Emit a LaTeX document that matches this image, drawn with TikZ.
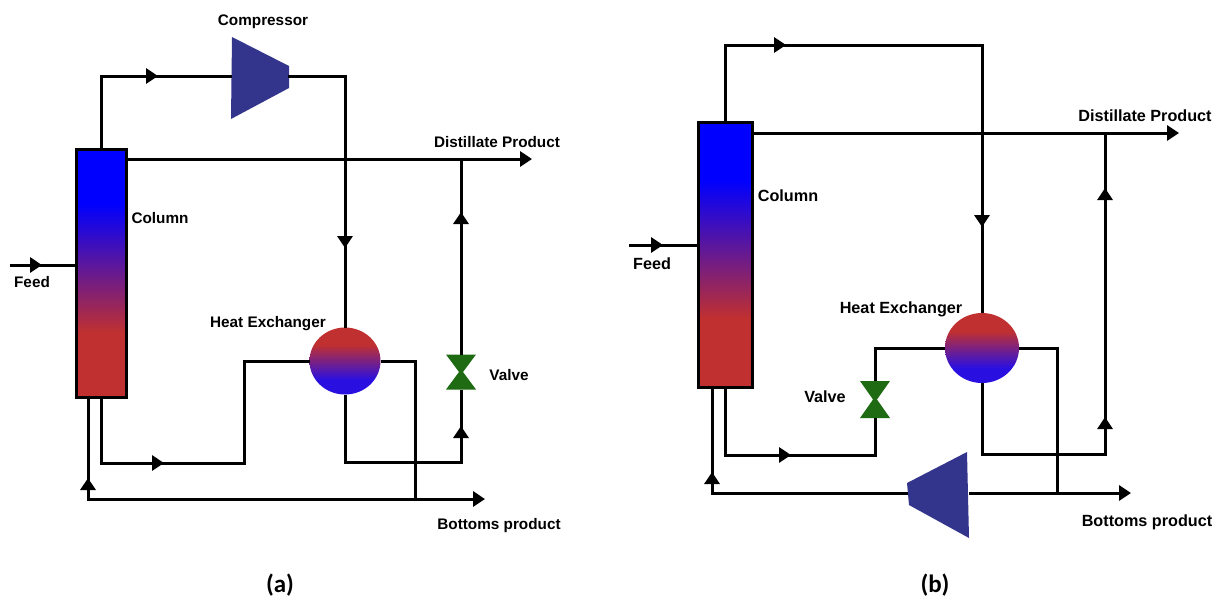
\documentclass[tikz,border=0pt]{standalone}
\usepackage{fontspec}
\setmainfont{Liberation Sans}
\newfontfamily\capfont{Carlito}
\usetikzlibrary{arrows.meta,shapes.geometric}
\definecolor{hotred}{HTML}{C03030}
\definecolor{coldblue}{HTML}{0000FF}
\definecolor{lowblue}{HTML}{2A10E0}
\definecolor{compblue}{HTML}{33348C}
\definecolor{valvegreen}{HTML}{1E6B14}
\pgfdeclareverticalshading{columnfade}{100bp}{color(0bp)=(hotred); color(38bp)=(hotred); color(64bp)=(coldblue); color(100bp)=(coldblue)}
\pgfdeclareverticalshading{exchfade}{100bp}{color(0bp)=(lowblue); color(36bp)=(lowblue); color(62bp)=(hotred); color(100bp)=(hotred)}
\tikzset{
  pipe/.style={line width=3pt},
  flow/.style={pipe, -{Triangle[length=12pt,width=15pt]}},
  aftertip/.style={pipe, shorten <=-6pt},
  columnbox/.style={draw, line width=3pt, shading=columnfade, minimum width=50pt, inner sep=0pt, outer sep=0pt},
  exchbox/.style={ellipse, shading=exchfade, inner sep=0pt, outer sep=0pt},
  valvebox/.style={minimum width=30pt, minimum height=35pt, inner sep=0pt, outer sep=0pt},
  compbox/.style={fill=compblue},
  lab/.style={font=\bfseries\fontsize{15.3}{17}\selectfont, inner sep=0pt},
  labb/.style={font=\bfseries\fontsize{16.2}{18}\selectfont, inner sep=0pt},
  panel/.style={font=\capfont\bfseries\fontsize{25}{28}\selectfont, inner sep=0pt}
}
\begin{document}
\begin{tikzpicture}[x=1pt,y=-1pt]
  \useasboundingbox (0,0) rectangle (1214,598);
  % left process
  \node[columnbox, minimum height=248pt] (cola) at (101,273) {};
  \node[exchbox, minimum width=71pt, minimum height=67pt] (exa) at (345,361) {};
  \node[valvebox] (vala) at (461,372) {};
  \fill[valvegreen, shift={(vala.center)}] (-15,-17.5) -- (15,-17.5) -- (2,0) -- (15,17.5) -- (-15,17.5) -- (-2,0) -- cycle;
  \fill[compbox] (232,37) -- (289,66) -- (289,88) -- (231,119) -- cycle;
  \coordinate (compina) at (232,76);
  \coordinate (compouta) at (288,76);
  \coordinate (tipa1) at (158,76);
  \coordinate (tipa2) at (345,248);
  \coordinate (dista) at (461,159);
  \coordinate (distenda) at (532,159);
  \coordinate (tipa3) at (461,212);
  \coordinate (tipa4) at (461,426);
  \coordinate (feeda) at (10,265);
  \coordinate (tipa5) at (42,265);
  \coordinate (tipa6) at (164,463);
  \coordinate (stepa) at (244,463);
  \coordinate (hota) at (415,361);
  \coordinate (bota) at (415,499);
  \coordinate (botenda) at (485,499);
  \coordinate (tipa7) at (88,478);
  \coordinate (loopa) at (461,462);
  \draw[flow] (cola.north) |- (tipa1);
  \draw[aftertip] (tipa1) -- (compina);
  \draw[flow] (compouta) -| (tipa2);
  \draw[aftertip] (tipa2) -- (exa.north);
  \draw[flow] (cola.east |- dista) -- (distenda);
  \draw[flow] (feeda) -- (tipa5);
  \draw[aftertip] (tipa5) -- (feeda -| cola.west);
  \draw[flow] (vala.north) -- (tipa3);
  \draw[aftertip] (tipa3) -- (dista);
  \draw[flow] (exa.south) |- (loopa) -- (tipa4);
  \draw[aftertip] (tipa4) -- (vala.south);
  \draw[flow] (cola.south) |- (tipa6);
  \draw[aftertip] (tipa6) -- (stepa) |- (exa.west);
  \draw[pipe] (exa.east) -- (hota) -- (bota);
  \draw[flow] (bota) -- (botenda);
  \draw[flow] (bota) -| (tipa7);
  \draw[aftertip] (tipa7) -- (cola.south -| tipa7);
  \node[lab] (compnamea) at (263,22) {Compressor};
  \node[lab] (distnamea) at (497,142) {Distillate Product};
  \node[lab] (colnamea) at (160,218) {Column};
  \node[lab] (feednamea) at (32,282) {Feed};
  \node[lab] (exnamea) at (268,324) {Heat Exchanger};
  \node[lab] (valnamea) at (509,375) {Valve};
  \node[lab] (botnamea) at (499,526) {Bottoms product};
  \node[panel] (capa) at (280,585) {(a)};
  % right process
  \node[columnbox, minimum width=54pt, minimum height=265pt] (colb) at (725,254.500) {};
  \node[exchbox, minimum width=74pt, minimum height=70pt] (exb) at (982,348) {};
  \node[valvebox, minimum height=37pt] (valb) at (875,399.500) {};
  \fill[valvegreen, shift={(valb.center)}] (-15,-18.500) -- (15,-18.500) -- (2,0) -- (15,18.500) -- (-15,18.500) -- (-2,0) -- cycle;
  \fill[compbox] (907,483) -- (967,452) -- (969,538) -- (909,505) -- cycle;
  \coordinate (compinb) at (969,493);
  \coordinate (compoutb) at (908,493);
  \coordinate (tipb1) at (786,45);
  \coordinate (tipb2) at (982,227);
  \coordinate (distb) at (1105,133);
  \coordinate (distendb) at (1179,133);
  \coordinate (tipb3) at (1105,188);
  \coordinate (tipb4) at (1105,417);
  \coordinate (feedb) at (629,245);
  \coordinate (tipb5) at (663,245);
  \coordinate (tipb6) at (791,455);
  \coordinate (hotb) at (1057,348);
  \coordinate (botb) at (1057,493);
  \coordinate (botendb) at (1131,493);
  \coordinate (tipb7) at (712,472);
  \coordinate (loopb) at (1105,454);
  \draw[flow] (colb.north) |- (tipb1);
  \draw[flow, shorten <=-6pt] (tipb1) -| (tipb2);
  \draw[aftertip] (tipb2) -- (exb.north);
  \draw[flow] (colb.east |- distb) -- (distendb);
  \draw[flow] (feedb) -- (tipb5);
  \draw[aftertip] (tipb5) -- (feedb -| colb.west);
  \draw[flow, shorten <=-6pt] (tipb4) -- (tipb3);
  \draw[aftertip] (tipb3) -- (distb);
  \draw[flow] (exb.south) |- (loopb) -- (tipb4);
  \draw[flow] (colb.south) |- (tipb6);
  \draw[aftertip] (tipb6) -| (valb.south);
  \draw[pipe] (valb.north) |- (exb.west);
  \draw[pipe] (exb.east) -- (hotb) -- (botb);
  \draw[flow] (compinb) -- (botendb);
  \draw[flow] (compoutb) -| (tipb7);
  \draw[aftertip] (tipb7) -- (colb.south -| tipb7);
  \node[labb] (distnameb) at (1145,116) {Distillate Product};
  \node[labb] (colnameb) at (788,196) {Column};
  \node[labb] (feednameb) at (652,264) {Feed};
  \node[labb] (exnameb) at (901,309) {Heat Exchanger};
  \node[labb] (valnameb) at (825,397) {Valve};
  \node[labb] (botnameb) at (1147,522) {Bottoms product};
  \node[panel] (capb) at (935,585) {(b)};
\end{tikzpicture}
\end{document}
